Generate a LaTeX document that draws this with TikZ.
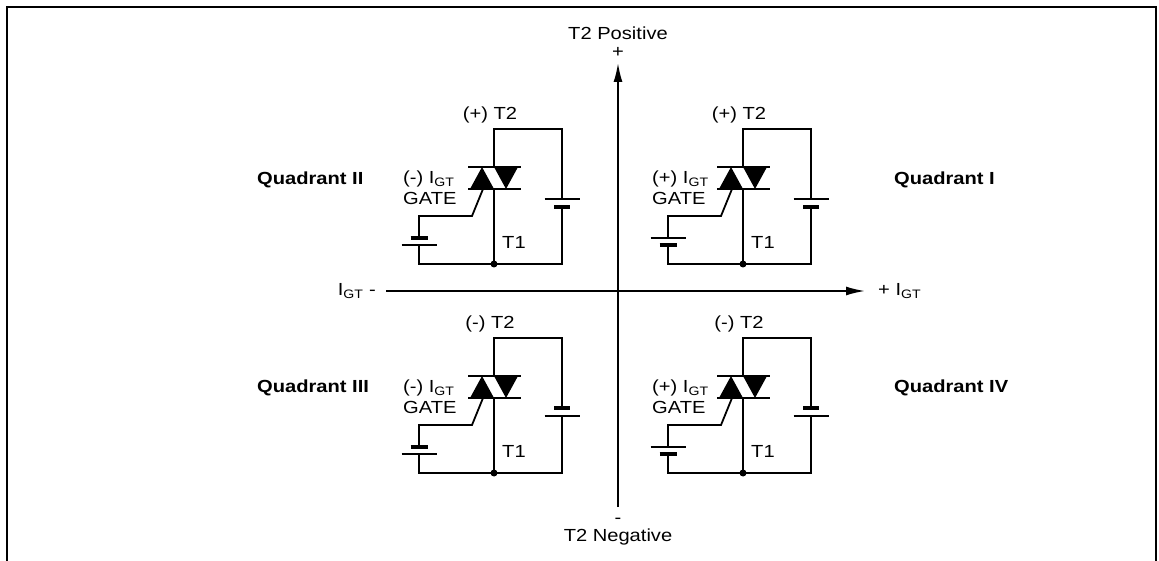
\documentclass[tikz,border=0pt]{standalone}
\usepackage{fontspec}
\setmainfont[FakeStretch=1.15]{Liberation Sans}
\usetikzlibrary{arrows.meta}
\tikzset{
  wire/.style={line width=1.8pt},
  plate/.style={line width=4pt},
  axis/.style={line width=1.8pt,-{Latex[length=19pt,width=9pt]}},
  lbl/.style={font=\fontsize{17.5}{19}\selectfont, inner sep=0pt},
  qlbl/.style={font=\fontsize{17.5}{19}\selectfont\bfseries, inner sep=0pt, anchor=west},
}
% #1 prefix, #2 x, #3 y, #4 T2 sign, #5 gate sign, #6 T2 positive (1/0), #7 gate positive (1/0)
\newcommand\tcircuit[7]{%
\begin{scope}[shift={(#2,#3)}]
  \coordinate (#1tl) at (0,0);
  \coordinate (#1tr) at (68,0);
  \coordinate (#1b1) at (68,70);
  \coordinate (#1b2) at (68,78);
  \coordinate (#1br) at (68,135);
  \coordinate (#1j) at (0,135);
  \coordinate (#1bl) at (-75,135);
  \coordinate (#1g2) at (-75,116);
  \coordinate (#1g1) at (-75,109);
  \coordinate (#1gh) at (-75,87);
  \coordinate (#1gk) at (-22,87);
  \coordinate (#1ge) at (-11,60);
  \coordinate (#1u) at (0,38);
  \coordinate (#1l) at (0,60);
  \draw[wire] (#1u) -- (#1tl) -- (#1tr) -- (#1b1);
  \draw[wire] (#1b2) -- (#1br) -- (#1bl) -- (#1g2);
  \draw[wire] (#1g1) -- (#1gh) -- (#1gk) -- (#1ge);
  \draw[wire] (#1l) -- (#1j);
  \draw[wire] (-26,38) -- (27,38);
  \draw[wire] (-26,60) -- (27,60);
  \fill (-24,60) -- (0,60) -- (-12,38) -- cycle;
  \fill (0,38) -- (24,38) -- (12,60) -- cycle;
  \fill (#1j) circle (3.5pt);
  \ifnum#6=1
    \draw[wire] (50.5,70) -- (85.5,70);
    \draw[plate] (60,78) -- (76,78);
  \else
    \draw[plate] (60,70) -- (76,70);
    \draw[wire] (50.5,78) -- (85.5,78);
  \fi
  \ifnum#7=1
    \draw[wire] (-92.5,109) -- (-57.5,109);
    \draw[plate] (-83.5,116) -- (-66.5,116);
  \else
    \draw[plate] (-83.5,109) -- (-66.5,109);
    \draw[wire] (-92.5,116) -- (-57.5,116);
  \fi
  \node[lbl] (#1t2) at (-4,-14) {(#4) T2};
  \node[lbl,anchor=west] (#1ig) at (-91,50) {(#5) I\textsubscript{GT}};
  \node[lbl,anchor=west] (#1gate) at (-91,69) {GATE};
  \node[lbl,anchor=west] (#1t1) at (8,113) {T1};
\end{scope}}
\begin{document}
\begin{tikzpicture}[x=1pt,y=-1pt]
  \useasboundingbox (0,0) rectangle (1159,561);
  \draw[line width=2pt] (7,561) -- (7,7) -- (1156,7) -- (1156,561);
  \coordinate (vb) at (618,507);
  \coordinate (vt) at (618,63);
  \coordinate (hl) at (386,291);
  \coordinate (hr) at (865,291);
  \draw[axis] (vb) -- (vt);
  \draw[axis] (hl) -- (hr);
  \node[lbl] (t2p) at (618,33) {T2 Positive};
  \node[lbl] (plus) at (618,52) {+};
  \node[lbl] (minus) at (618,521) {-};
  \node[lbl] (t2n) at (618,537) {T2 Negative};
  \node[lbl,anchor=east] (igm) at (376,291) {I\textsubscript{GT} -};
  \node[lbl,anchor=west] (igp) at (878,291) {+ I\textsubscript{GT}};
  \tcircuit{q2}{494}{129}{+}{-}{1}{0}
  \tcircuit{q1}{743}{129}{+}{+}{1}{1}
  \tcircuit{q3}{494}{338}{-}{-}{0}{0}
  \tcircuit{q4}{743}{338}{-}{+}{0}{1}
  \node[qlbl] (qII) at (257,180) {Quadrant II};
  \node[qlbl] (qI) at (894,180) {Quadrant I};
  \node[qlbl] (qIII) at (257,388) {Quadrant III};
  \node[qlbl] (qIV) at (894,388) {Quadrant IV};
\end{tikzpicture}
\end{document}
